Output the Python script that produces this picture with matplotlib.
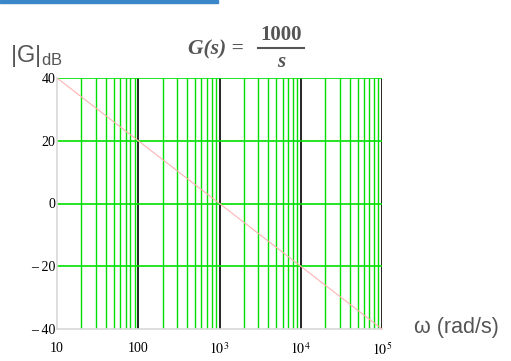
import matplotlib.pyplot as plt
import numpy as np
from matplotlib.patches import Rectangle
from matplotlib.lines import Line2D

plt.rcParams["mathtext.fontset"] = "stix"

# Bode magnitude of G(s) = 1000/s
omega = [10, 1e5]
gain_db = [40, -40]

x_ticks = [10, 100, 1e3, 1e4, 1e5]
x_labels = ["10", "100", "$10^3$", "$10^4$", "$10^5$"]
y_ticks = [-40, -20, 0, 20, 40]
y_labels = ["\u2013 40", "\u2013 20", "0", "20", "40"]

fig = plt.figure(figsize=(5.11, 3.61), dpi=100)
W, H = 511, 361
ax = fig.add_axes([57 / W, 1 - 329 / H, (382 - 57) / W, (329 - 78) / H])

ax.set_xscale("log")
ax.set_xlim(10, 1e5)
ax.set_ylim(-40, 40)

# minor (green) and major (black) vertical grid
for dec in [10, 100, 1e3, 1e4]:
    for m in range(2, 10):
        ax.axvline(dec * m, color="#00e000", lw=1.0, zorder=1)
for dec in [100, 1e3, 1e4, 1e5]:
    ax.axvline(dec, color="black", lw=1.2, zorder=2)
for yv in [-20, 0, 20, 40]:
    ax.axhline(yv, color="#00e000", lw=1.2, zorder=2)

ax.plot(omega, gain_db, color="#ffb3b3", lw=0.8, zorder=3)

for s in ["top", "right"]:
    ax.spines[s].set_visible(False)
for s in ["left", "bottom"]:
    ax.spines[s].set_color("#d8d8d8")
    ax.spines[s].set_linewidth(1.2)

ax.set_xticks(x_ticks)
ax.set_xticklabels(x_labels)
ax.xaxis.set_minor_locator(plt.NullLocator())
ax.set_yticks(y_ticks)
ax.set_yticklabels(y_labels)
ax.tick_params(length=0, labelsize=10)
ax.tick_params(axis="x", pad=9)
ax.tick_params(axis="y", pad=1)
for lab in ax.get_xticklabels() + ax.get_yticklabels():
    lab.set_family("Liberation Serif")

# blue bar at the top
fig.patches.append(Rectangle((0, 1 - 3 / H), 218 / W, 3 / H, transform=fig.transFigure,
                             color="#3a86c8", zorder=5))

fig.text(10 / W, 1 - 56 / H, "|G|$_{\\mathregular{dB}}$", fontsize=17, color="#555555",
         family="Liberation Sans", va="center")
fig.text(414 / W, 1 - 327 / H, "\u03c9 (rad/s)", fontsize=15.5, color="#555555",
         family="Liberation Sans", va="center")

# title G(s) = 1000 / s
tc = "#555555"
fig.text(188 / W, 1 - 49 / H, "G(s) =", fontsize=15.5, color=tc, family="Liberation Serif",
         weight="bold", style="italic", va="center")
fig.text(281 / W, 1 - 35 / H, "1000", fontsize=15, color=tc, family="Liberation Serif",
         weight="bold", ha="center", va="center")
fig.text(281 / W, 1 - 62 / H, "s", fontsize=15, color=tc, family="Liberation Serif",
         weight="bold", style="italic", ha="center", va="center")
fig.lines.append(Line2D([258 / W, 304 / W], [1 - 48 / H, 1 - 48 / H], transform=fig.transFigure,
                        color=tc, lw=1.5))

fig.savefig("out.png", dpi=100)
